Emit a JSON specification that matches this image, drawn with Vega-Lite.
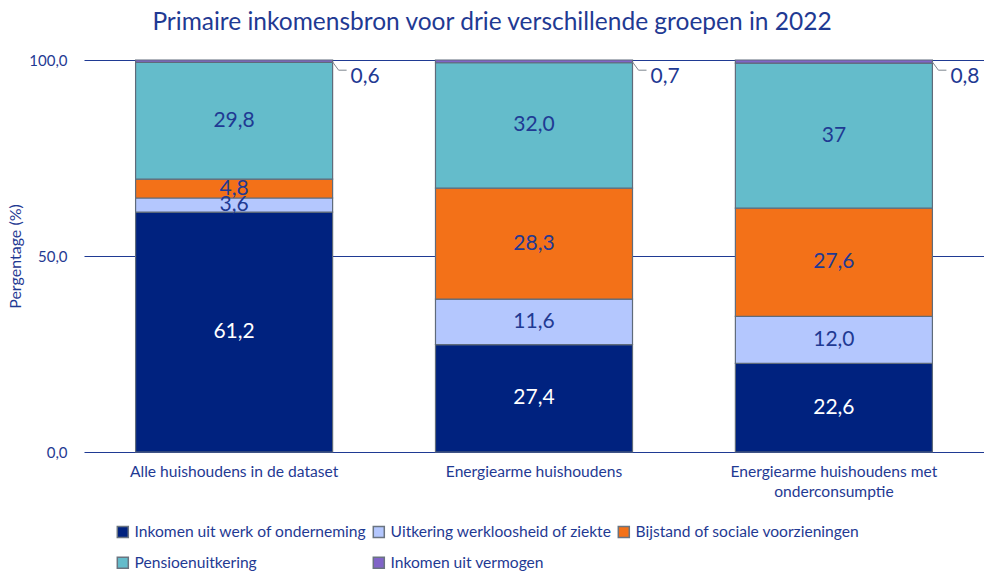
{
  "$schema": "https://vega.github.io/schema/vega-lite/v6.json",
  "width": 900,
  "height": 392,
  "autosize": "none",
  "padding": {"left": 84, "top": 60, "right": 0, "bottom": 120},
  "background": "white",
  "config": {
    "font": "Lato",
    "view": {"stroke": null},
    "axis": {"labelColor": "#1F3A93", "titleColor": "#1F3A93", "labelFont": "Lato", "titleFont": "Lato"},
    "legend": {"labelColor": "#1F3A93", "labelFont": "Lato"}
  },
  "title": {
    "text": "Primaire inkomensbron voor drie verschillende groepen in 2022",
    "fontSize": 24.5,
    "font": "Lato",
    "fontWeight": "normal",
    "color": "#1F3A93",
    "anchor": "middle",
    "frame": "group",
    "dx": -42,
    "offset": 18
  },
  "data": {
    "values": [
      {"groep": "Alle huishoudens in de dataset", "bron": "Inkomen uit werk of onderneming", "waarde": 61.2, "label": "61,2", "volg": 1},
      {"groep": "Alle huishoudens in de dataset", "bron": "Uitkering werkloosheid of ziekte", "waarde": 3.6, "label": "3,6", "volg": 2},
      {"groep": "Alle huishoudens in de dataset", "bron": "Bijstand of sociale voorzieningen", "waarde": 4.8, "label": "4,8", "volg": 3},
      {"groep": "Alle huishoudens in de dataset", "bron": "Pensioenuitkering", "waarde": 29.8, "label": "29,8", "volg": 4},
      {"groep": "Alle huishoudens in de dataset", "bron": "Inkomen uit vermogen", "waarde": 0.6, "label": "0,6", "volg": 5},
      {"groep": "Energiearme huishoudens", "bron": "Inkomen uit werk of onderneming", "waarde": 27.4, "label": "27,4", "volg": 1},
      {"groep": "Energiearme huishoudens", "bron": "Uitkering werkloosheid of ziekte", "waarde": 11.6, "label": "11,6", "volg": 2},
      {"groep": "Energiearme huishoudens", "bron": "Bijstand of sociale voorzieningen", "waarde": 28.3, "label": "28,3", "volg": 3},
      {"groep": "Energiearme huishoudens", "bron": "Pensioenuitkering", "waarde": 32.0, "label": "32,0", "volg": 4},
      {"groep": "Energiearme huishoudens", "bron": "Inkomen uit vermogen", "waarde": 0.7, "label": "0,7", "volg": 5},
      {"groep": "Energiearme huishoudens met onderconsumptie", "bron": "Inkomen uit werk of onderneming", "waarde": 22.6, "label": "22,6", "volg": 1},
      {"groep": "Energiearme huishoudens met onderconsumptie", "bron": "Uitkering werkloosheid of ziekte", "waarde": 12.0, "label": "12,0", "volg": 2},
      {"groep": "Energiearme huishoudens met onderconsumptie", "bron": "Bijstand of sociale voorzieningen", "waarde": 27.6, "label": "27,6", "volg": 3},
      {"groep": "Energiearme huishoudens met onderconsumptie", "bron": "Pensioenuitkering", "waarde": 37, "label": "37", "volg": 4},
      {"groep": "Energiearme huishoudens met onderconsumptie", "bron": "Inkomen uit vermogen", "waarde": 0.8, "label": "0,8", "volg": 5}
    ]
  },
  "transform": [
    {"stack": "waarde", "groupby": ["groep"], "sort": [{"field": "volg", "order": "ascending"}], "as": ["y0", "y1"]},
    {"calculate": "(datum.y0 + datum.y1) / 2", "as": "ymid"}
  ],
  "encoding": {
    "x": {
      "field": "groep",
      "type": "nominal",
      "sort": null,
      "scale": {"paddingInner": 0.343, "paddingOuter": 0.172},
      "axis": {
        "title": null,
        "labelAngle": 0,
        "labelFontSize": 15.6,
        "labelPadding": 12,
        "labelLimit": 400,
        "domain": false,
        "ticks": false,
        "labelLineHeight": 20,
        "labelExpr": "datum.label == 'Energiearme huishoudens met onderconsumptie' ? ['Energiearme huishoudens met', 'onderconsumptie'] : datum.label"
      }
    }
  },
  "layer": [
    {
      "mark": {"type": "bar", "stroke": "#5F6B7A", "strokeWidth": 1.2},
      "encoding": {
        "y": {
          "field": "y0",
          "type": "quantitative",
          "scale": {"domain": [0, 100]},
          "axis": {
            "title": "Pergentage (%)",
            "titleFontSize": 16,
            "titleFontWeight": "normal",
            "titlePadding": 5,
            "values": [0, 50, 100],
            "labelFontSize": 15,
            "labelPadding": 17,
            "domain": false,
            "ticks": false,
            "grid": true,
            "gridColor": "#1F3A93",
            "gridWidth": 1.2,
            "gridOpacity": 1,
            "labelExpr": "replace(format(datum.value, '.1f'), '.', ',')"
          }
        },
        "y2": {"field": "y1"},
        "color": {
          "field": "bron",
          "type": "nominal",
          "sort": ["Inkomen uit werk of onderneming", "Uitkering werkloosheid of ziekte", "Bijstand of sociale voorzieningen", "Pensioenuitkering", "Inkomen uit vermogen"],
          "scale": {
            "domain": ["Inkomen uit werk of onderneming", "Uitkering werkloosheid of ziekte", "Bijstand of sociale voorzieningen", "Pensioenuitkering", "Inkomen uit vermogen"],
            "range": ["#00227F", "#B4C7FE", "#F37118", "#64BCCB", "#8064C8"]
          },
          "legend": {
            "title": null,
            "orient": "none",
            "legendX": 31,
            "legendY": 464,
            "direction": "horizontal",
            "columns": 3,
            "symbolType": "square",
            "symbolSize": 121,
            "symbolStrokeColor": "#6A7480",
            "symbolStrokeWidth": 1.5,
            "labelFontSize": 15.6,
            "labelLimit": 400,
            "labelOffset": 4,
            "columnPadding": 3,
            "rowPadding": 13
          }
        },
        "order": {"field": "volg"}
      }
    },
    {
      "transform": [{"filter": "datum.volg < 5"}],
      "mark": {"type": "text", "fontSize": 21, "baseline": "middle", "align": "center"},
      "encoding": {
        "y": {"field": "ymid", "type": "quantitative"},
        "text": {"field": "label"},
        "color": {
          "condition": {"test": "datum.volg == 1", "value": "white"},
          "value": "#1F3A93"
        }
      }
    },
    {
      "transform": [{"filter": "datum.volg == 5"}],
      "mark": {"type": "text", "fontSize": 21, "baseline": "middle", "align": "left", "dx": 18, "color": "#1F3A93"},
      "encoding": {
        "x": {"field": "groep", "type": "nominal", "sort": null, "bandPosition": 1},
        "y": {"datum": 95.7, "type": "quantitative"},
        "text": {"field": "label"}
      }
    },
    {
      "transform": [{"filter": "datum.volg == 5"}],
      "mark": {"type": "rule", "color": "#7F8790", "strokeWidth": 1, "x2Offset": {"expr": "bandwidth('x') / 2 + 6"}},
      "encoding": {
        "x": {"field": "groep", "type": "nominal", "sort": null, "bandPosition": 1},
        "x2": {"field": "groep"},
        "y": {"datum": 99.5, "type": "quantitative"},
        "y2": {"datum": 97.4}
      }
    },
    {
      "transform": [{"filter": "datum.volg == 5"}],
      "mark": {"type": "rule", "color": "#7F8790", "strokeWidth": 1, "xOffset": 6, "x2Offset": {"expr": "bandwidth('x') / 2 + 14"}},
      "encoding": {
        "x": {"field": "groep", "type": "nominal", "sort": null, "bandPosition": 1},
        "x2": {"field": "groep"},
        "y": {"datum": 97.4, "type": "quantitative"}
      }
    }
  ]
}
